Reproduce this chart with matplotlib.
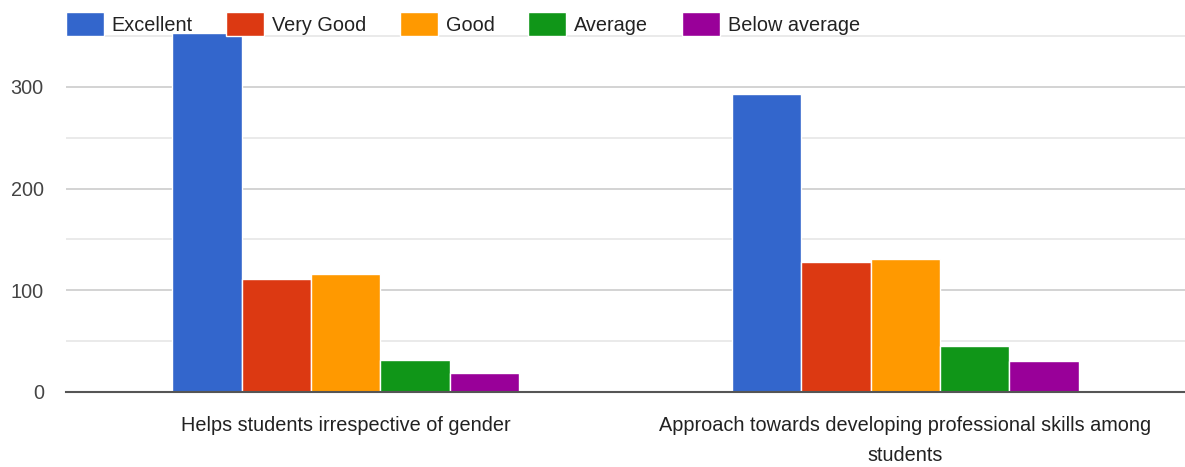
import numpy as np
import matplotlib.pyplot as plt

# Data
categories = ["Helps students irrespective of gender",
              "Approach towards developing professional skills among\nstudents"]
series_names = ["Excellent", "Very Good", "Good", "Average", "Below average"]
excellent = [353, 293]
very_good = [111, 128]
good = [116, 131]
average = [31, 45]
below_average = [19, 30]

colors = ["#3366cc", "#dc3912", "#ff9900", "#109618", "#990099"]
values = [excellent, very_good, good, average, below_average]

plt.rcParams['font.family'] = ['Liberation Sans', 'DejaVu Sans']
fs = 14.3

fig = plt.figure(figsize=(11.85, 4.67), dpi=100)
ax = fig.add_axes([0.0557, 0.1606, 0.9443, 0.7665])

x = np.arange(len(categories))
bar_w = 0.124
for i, (name, vals) in enumerate(zip(series_names, values)):
    ax.bar(x + (i - 2) * bar_w, vals, width=bar_w, color=colors[i],
           edgecolor="white", linewidth=1, label=name, zorder=3, clip_on=False)

ax.set_xlim(-0.5, 1.5)
ax.set_ylim(0, 352)
ax.set_yticks([0, 100, 200, 300])
ax.set_yticks([50, 150, 250, 350], minor=True)
ax.tick_params(axis="y", which="both", length=0, labelsize=fs, colors="#444444", pad=16)
ax.tick_params(axis="x", length=0, labelsize=fs, colors="#222222", pad=17)
ax.set_xticks(x)
ax.set_xticklabels(categories, linespacing=1.75)
ax.grid(axis="y", which="major", color="#cccccc", linewidth=1.2, zorder=0)
ax.grid(axis="y", which="minor", color="#e6e6e6", linewidth=1.2, zorder=0)
for s in ["top", "right", "left"]:
    ax.spines[s].set_visible(False)
ax.spines["bottom"].set_color("#555555")
ax.spines["bottom"].set_linewidth(1.5)
ax.spines["bottom"].set_zorder(4)

fig.legend(loc="upper left", bbox_to_anchor=(0.0405, 1.012), ncol=5, frameon=False,
           fontsize=fs, handlelength=1.9, handleheight=1.45, handletextpad=0.4,
           columnspacing=1.7, labelcolor="#222222")

fig.savefig("out.png", dpi=100)
